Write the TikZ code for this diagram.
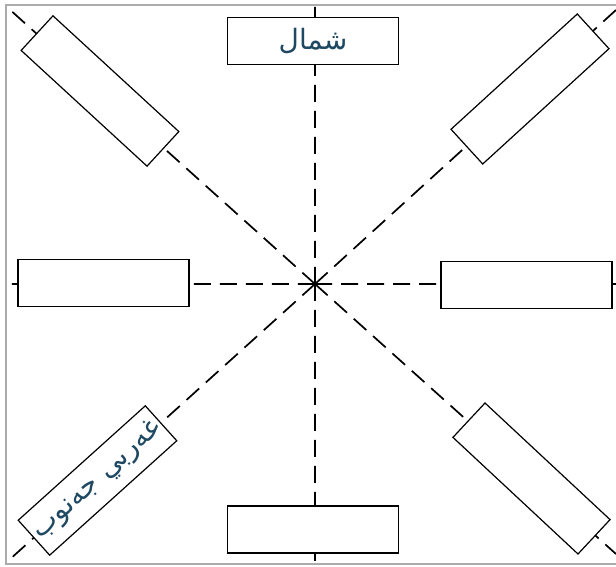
\documentclass[tikz,border=0pt]{standalone}
\usepackage{fontspec}
\TeXXeTstate=1
\newfontfamily\arabicfont[Script=Arabic]{DejaVu Sans}
\definecolor{labelblue}{RGB}{31,73,99}

\begin{document}
\begin{tikzpicture}[x=0.5pt,y=0.5pt,
    dirbox/.style={draw,fill=white,line width=0.6pt,minimum width=85.5pt,minimum height=23.5pt,inner sep=0pt},
    axis/.style={dash pattern=on 8.5pt off 4.5pt,line width=0.85pt},
    dirlabel/.style={font=\arabicfont\fontsize{14}{16}\selectfont,text=labelblue}]
\useasboundingbox (-315,284) rectangle (301,-283);
% frame
\draw[gray!65,line width=1.2pt] (301,279) -- (-309,279) -- (-309,-280) -- (301,-280);
% centre and line ends
\coordinate (c) at (0,0);
\coordinate (n) at (0,279);
\coordinate (s) at (0,-280);
\coordinate (w) at (-309,0);
\coordinate (e) at (301,0);
\coordinate (nw) at (-307,276);
\coordinate (ne) at (301,274);
\coordinate (sw) at (-307,-277);
\coordinate (se) at (301,-270);
\draw[axis] (c) -- (n) (c) -- (s) (c) -- (w) (c) -- (e)
    (c) -- (nw) (c) -- (ne) (c) -- (sw) (c) -- (se);
% boxes
\node[dirbox,dirlabel] (nbox) at (-2,243) {\beginR شمال\endR};
\node[dirbox] (sbox) at (-2,-245.5) {};
\node[dirbox] (wbox) at (-211.5,1) {};
\node[dirbox] (ebox) at (211.5,-1) {};
\node[dirbox,rotate=-42.6] (nwbox) at (-215,193) {};
\node[dirbox,rotate=42.4] (nebox) at (215,195) {};
\node[dirbox,dirlabel,rotate=42] (swbox) at (-217.5,-196.5) {\beginR غەربي جەنوب\endR};
\node[dirbox,rotate=-43] (sebox) at (216.5,-194.5) {};
\end{tikzpicture}
\end{document}
